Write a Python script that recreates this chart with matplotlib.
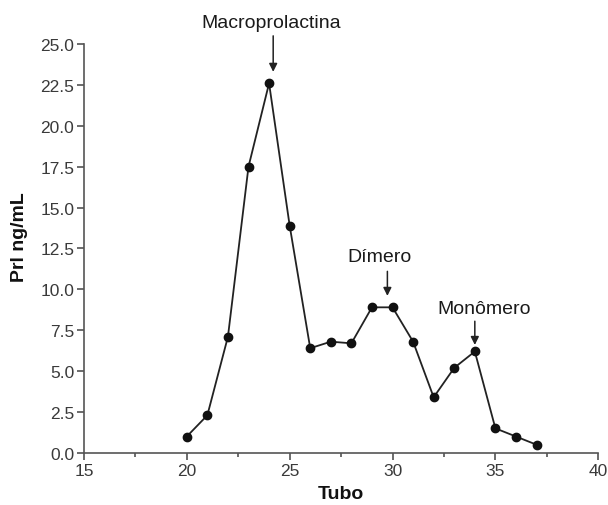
import matplotlib as mpl; mpl.use("Agg")
import matplotlib.pyplot as plt
from matplotlib.ticker import MultipleLocator, FormatStrFormatter

mpl.rcParams.update({"font.family": "sans-serif", "font.sans-serif": ["Liberation Sans", "DejaVu Sans"],
                     "font.size": 12, "axes.linewidth": 1.2})

tubo = [20, 21, 22, 23, 24, 25, 26, 27, 28, 29, 30, 31, 32, 33, 34, 35, 36, 37]
prl = [1.0, 2.3, 7.1, 17.5, 22.6, 13.9, 6.4, 6.8, 6.7, 8.9, 8.9, 6.8, 3.4, 5.2, 6.2, 1.5, 1.0, 0.5]

# annotation labels: (text, text x, text bottom y, arrow x, arrow tail y, arrow head y)
labels = [("Macroprolactina", 24.1, 25.8, 24.2, 25.5, 23.3),
          ("Dímero", 29.35, 11.5, 29.75, 11.1, 9.6),
          ("Monômero", 34.45, 8.3, 34.0, 8.05, 6.6)]

fig = plt.figure(figsize=(6.08, 5.06), dpi=100)
ax = fig.add_axes([0.138, 0.103, 0.846, 0.808])
ax.plot(tubo, prl, color="#222", lw=1.3, marker="o", ms=6, mfc="#111", mec="#111", clip_on=False)
ax.set_xlim(15, 40); ax.set_ylim(0, 25)
ax.xaxis.set_major_locator(MultipleLocator(5)); ax.xaxis.set_minor_locator(MultipleLocator(2.5))
ax.yaxis.set_major_locator(MultipleLocator(2.5))
ax.yaxis.set_major_formatter(FormatStrFormatter("%.1f"))
ax.tick_params(direction="out", length=5, width=1.1, labelsize=12.5, labelcolor="#3a3a3a", color="#444", pad=2)
ax.tick_params(which="minor", length=3, width=1.1, color="#444")
ax.spines[["top", "right"]].set_visible(False)
for s in ("left", "bottom"): ax.spines[s].set_color("#555")
ax.set_xlabel("Tubo", fontsize=14, fontweight="bold", color="#111")
ax.xaxis.set_label_coords(0.5, -0.078)
ax.set_ylabel("Prl ng/mL", fontsize=14, fontweight="bold", color="#111")
ax.yaxis.set_label_coords(-0.108, 0.53)

for txt, tx, ty, ax_x, y0, y1 in labels:
    ax.text(tx, ty, txt, ha="center", va="bottom", fontsize=14, color="#1a1a1a", clip_on=False)
    ax.annotate("", xy=(ax_x, y1), xytext=(ax_x, y0), annotation_clip=False,
                arrowprops=dict(arrowstyle="-|>", color="#222", lw=1.1, mutation_scale=12,
                                shrinkA=0, shrinkB=0))

fig.savefig("out.png", dpi=100)
